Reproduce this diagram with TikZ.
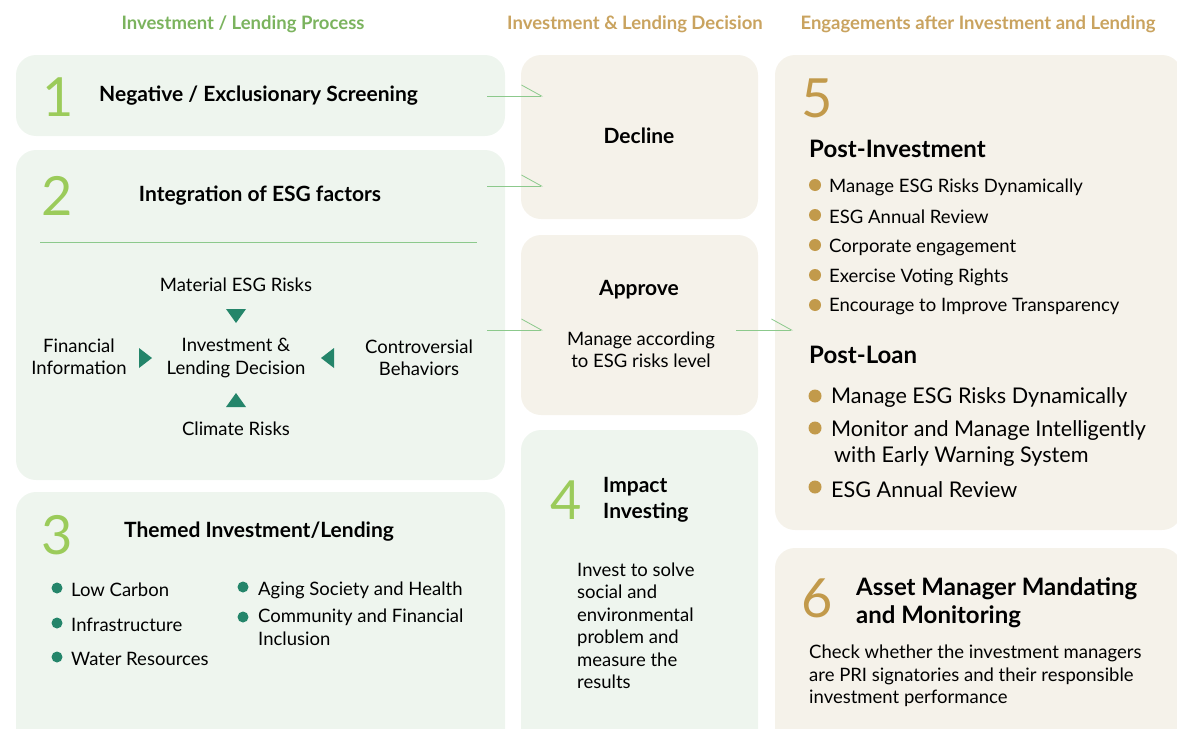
\documentclass[tikz,border=0pt]{standalone}
\usepackage{fontspec}
\setmainfont{Lato}
\usepackage{tikz}
\usetikzlibrary{positioning, arrows.meta}

\definecolor{hdrgreen}{HTML}{7BB35E}
\definecolor{hdrgold}{HTML}{C9A35F}
\definecolor{boxgreen}{HTML}{EEF5EE}
\definecolor{boxbeige}{HTML}{F5F2EA}
\definecolor{numgreen}{HTML}{9BCB5A}
\definecolor{numgold}{HTML}{C29A4B}
\definecolor{darkteal}{HTML}{24856A}
\definecolor{linegreen}{HTML}{8CC98C}

\tikzset{
  greenbox/.style={fill=boxgreen, rounded corners=20pt},
  beigebox/.style={fill=boxbeige, rounded corners=20pt},
  hdr/.style={font=\bfseries\fontsize{18.5}{20}\selectfont, inner sep=0pt},
  num/.style={font=\fontsize{54}{54}\selectfont, inner sep=0pt},
  title/.style={font=\bfseries\fontsize{21}{26}\selectfont, inner sep=0pt, align=left},
  bigtitle/.style={font=\bfseries\fontsize{24}{28}\selectfont, inner sep=0pt, align=left},
  body/.style={font=\fontsize{18.5}{22.5}\selectfont, inner sep=0pt},
  bodylg/.style={font=\fontsize{21.6}{26}\selectfont, inner sep=0pt, align=left},
  flow/.style={draw=linegreen, line width=0.8pt, -{Straight Barb[harpoon, length=20pt, width=22pt]}}
}

\begin{document}
\begin{tikzpicture}[x=1pt, y=-1pt]
  \useasboundingbox (0,0) rectangle (1177,728);
  \clip (0,0) rectangle (1177,728);

  % Column headers
  \node[hdr, text=hdrgreen] (hproc) at (243,24) {Investment / Lending Process};
  \node[hdr, text=hdrgold] (hdec) at (635,24) {Investment \& Lending Decision};
  \node[hdr, text=hdrgold] (heng) at (978,24) {Engagements after Investment and Lending};

  % Panels
  \fill[greenbox] (16,55) rectangle (505,136);
  \fill[greenbox] (16,150) rectangle (505,480);
  \fill[greenbox] (16,492) rectangle (505,770);
  \fill[beigebox] (521,55) rectangle (758,219);
  \fill[beigebox] (521,235) rectangle (758,415);
  \fill[greenbox] (521,430) rectangle (758,770);
  \fill[beigebox] (775,55) rectangle (1182,530);
  \fill[beigebox] (775,548) rectangle (1182,770);

  % 1 Screening
  \node[num, text=numgreen] (n1) at (58,97) {1};
  \node[title, anchor=west] (screen) at (99,96) {Negative / Exclusionary Screening};

  % 2 ESG integration
  \node[num, text=numgreen] (n2) at (57,196) {2};
  \node[title] (integ) at (260,196) {Integration of ESG factors};
  \draw[linegreen, line width=0.8pt] (40,242) -- (477,242);
  \node[body, align=center] (ildec) at (236,358) {Investment \&\\Lending Decision};
  \node[body] (matrisk) at (236,285) {Material ESG Risks};
  \node[body] (climate) at (236,429) {Climate Risks};
  \node[body, align=center] (fininfo) at (79,357) {Financial\\Information};
  \node[body, align=center] (contro) at (419,358) {Controversial\\Behaviors};
  \fill[darkteal] (226,309) -- (246,309) -- (236,323) -- cycle;
  \fill[darkteal] (226,407) -- (246,407) -- (236,393) -- cycle;
  \fill[darkteal] (139,348) -- (139,368) -- (152,358) -- cycle;
  \fill[darkteal] (334,348) -- (334,368) -- (321,358) -- cycle;

  % 3 Themed investment
  \node[num, text=numgreen] (n3) at (57,535) {3};
  \node[title, anchor=west] (themed) at (124,532) {Themed Investment/Lending};
  \foreach \y/\t [count=\i] in {590/Low Carbon, 625/Infrastructure, 659/Water Resources} {
    \fill[darkteal] (57,\y-2) circle (5.5pt);
    \node[body, anchor=west] (theme\i) at (71,\y) {\t};
  }
  \fill[darkteal] (243,587) circle (5.5pt);
  \node[body, anchor=west] (aging) at (258,590) {Aging Society and Health};
  \fill[darkteal] (243,617) circle (5.5pt);
  \node[body, anchor=north west, align=left] (commu) at (258,609) {Community and Financial\\Inclusion};

  % Decision column
  \node[title] (decline) at (639,136) {Decline};
  \node[title] (approve) at (639,290) {Approve};
  \node[body, align=center] (manage) at (641,350) {Manage according\\to ESG risks level};

  % 4 Impact investing
  \node[num, text=numgreen] (n4) at (566,500) {4};
  \node[title, anchor=west] (impact) at (603,500) {Impact\\Investing};
  \node[body, anchor=west, align=left] (solve) at (577,626)
    {Invest to solve\\social and\\environmental\\problem and\\measure the\\results};

  % 5 Post-investment / post-loan
  \node[num, text=numgold] (n5) at (817,98) {5};
  \node[bigtitle, anchor=west] (postinv) at (809,149) {Post-Investment};
  \foreach \y/\t [count=\i] in {187/Manage ESG Risks Dynamically, 217/ESG Annual Review,
      247/Corporate engagement, 277/Exercise Voting Rights, 307/Encourage to Improve Transparency} {
    \fill[numgold] (815,\y-2) circle (6pt);
    \node[body, anchor=west] (pi\i) at (829,\y) {\t};
  }
  \node[bigtitle, anchor=west] (postloan) at (809,355) {Post-Loan};
  \fill[numgold] (815,396) circle (6.5pt);
  \node[bodylg, anchor=west] (pl1) at (831,398) {Manage ESG Risks Dynamically};
  \fill[numgold] (815,428) circle (6.5pt);
  \node[bodylg, anchor=west] (pl2) at (831,444) {Monitor and Manage Intelligently\\\hspace{3pt}with Early Warning System};
  \fill[numgold] (815,487) circle (6.5pt);
  \node[bodylg, anchor=west] (pl3) at (831,490) {ESG Annual Review};

  % 6 Asset manager
  \node[num, text=numgold] (n6) at (817,598) {6};
  \node[bigtitle, anchor=west] (asset) at (856,603) {Asset Manager Mandating\\and Monitoring};
  \node[body, anchor=west, align=left] (check) at (809,676)
    {Check whether the investment managers\\are PRI signatories and their responsible\\investment performance};

  % Flow arrows
  \coordinate (s1) at (487,96);  \coordinate (e1) at (543,96);
  \coordinate (s2) at (487,186); \coordinate (e2) at (543,186);
  \coordinate (s3) at (487,330); \coordinate (e3) at (543,330);
  \coordinate (s4) at (736,330); \coordinate (e4) at (793,330);
  \draw[flow] (s1) -- (e1);
  \draw[flow] (s2) -- (e2);
  \draw[flow] (s3) -- (e3);
  \draw[flow] (s4) -- (e4);
\end{tikzpicture}
\end{document}
